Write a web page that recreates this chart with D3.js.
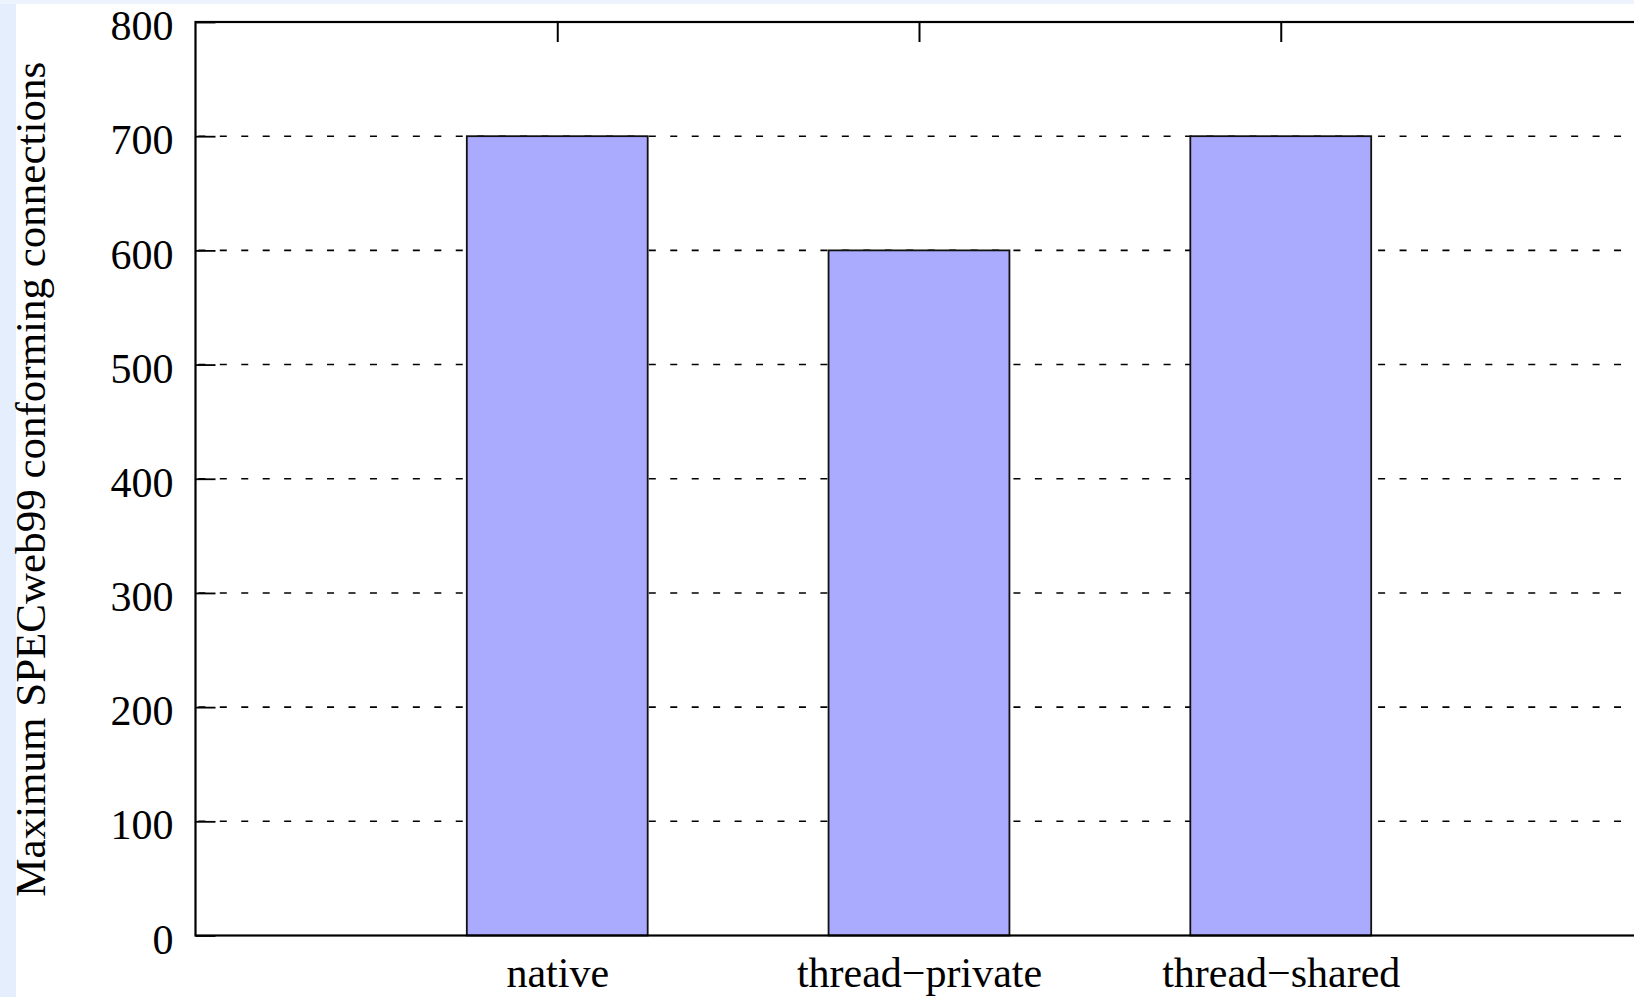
<!DOCTYPE html>
<html>
<head>
<meta charset="utf-8">
<script src="https://cdn.jsdelivr.net/npm/d3@7"></script>
<style>
  html, body { margin: 0; padding: 0; background: #e4eefc; overflow: hidden; }
  svg { display: block; }
  .tick-text { font-family: 'Liberation Serif', 'Times New Roman', serif; font-size: 42px; fill: #000; }
</style>
</head>
<body>
<svg id="chart"></svg>
<script>
const categories = ['native', 'thread\u2212private', 'thread\u2212shared']
const values = [700, 600, 700]
const yTicks = [0, 100, 200, 300, 400, 500, 600, 700, 800]
const yLabel = 'Maximum SPECweb99 conforming connections'

const chartWidth = 1634
const chartHeight = 997
const plotLeft = 195.5
const plotTop = 22
const plotBottom = 935.5
const unit = 361.75   // px per category step
const barWidth = 0.5  // in category units
const tickLen = 20
const fontFamily = "'Liberation Serif', 'Times New Roman', serif"

let svg = d3.select('#chart')
  .attr('width', chartWidth)
  .attr('height', chartHeight)

// light blue page strip left and top, white plot page
svg.append('rect')
  .attr('x', 0).attr('y', 0).attr('width', chartWidth).attr('height', 4)
  .style('fill', '#edf4fd')
svg.append('rect')
  .attr('x', 16).attr('y', 4).attr('width', chartWidth - 16).attr('height', chartHeight - 4)
  .style('fill', '#ffffff')

let xScale = d3.scaleLinear()
  .domain([0, categories.length + 1])
  .range([plotLeft, plotLeft + unit * (categories.length + 1)])
let yScale = d3.scaleLinear()
  .domain([0, 800])
  .range([plotBottom, plotTop])

// dashed grid
svg.append('g')
  .classed('grid', true)
  .selectAll('line')
  .data(yTicks.filter(t => t > 0 && t < 800))
  .enter()
  .append('line')
  .attr('x1', xScale.range()[0])
  .attr('x2', xScale.range()[1])
  .attr('y1', d => yScale(d))
  .attr('y2', d => yScale(d))
  .style('stroke', '#000')
  .style('stroke-width', 1.6)
  .style('stroke-dasharray', '7,14.45')
  .style('stroke-dashoffset', 18.6)

// bars
svg.append('g')
  .classed('bars', true)
  .selectAll('rect')
  .data(values)
  .enter()
  .append('rect')
  .attr('x', (d, i) => xScale(i + 1 - barWidth / 2))
  .attr('y', d => yScale(d))
  .attr('width', xScale(barWidth) - xScale(0))
  .attr('height', d => yScale(0) - yScale(d))
  .style('fill', '#aaaaff')
  .style('stroke', '#111')
  .style('stroke-width', 1.8)

// y axis
let yAxis = svg.append('g')
  .attr('transform', `translate(${plotLeft}, 0)`)
  .call(d3.axisLeft(yScale).tickValues(yTicks).tickSizeInner(-tickLen).tickSizeOuter(0).tickPadding(22))
yAxis.select('.domain').remove()
yAxis.selectAll('.tick line').style('stroke', '#000').style('stroke-width', 1.8)
yAxis.selectAll('.tick text')
  .classed('tick-text', true)
  .attr('dy', '0.42em')
  .style('font-family', fontFamily)
  .style('font-size', '42px')

// top axis ticks at categories
let topAxis = svg.append('g')
  .attr('transform', `translate(0, ${plotTop})`)
  .call(d3.axisTop(xScale).tickValues(categories.map((c, i) => i + 1)).tickSizeInner(-tickLen).tickSizeOuter(0).tickFormat(''))
topAxis.select('.domain').remove()
topAxis.selectAll('.tick line').style('stroke', '#000').style('stroke-width', 2)

// bottom axis labels
let xAxis = svg.append('g')
  .attr('transform', `translate(0, ${plotBottom})`)
  .call(d3.axisBottom(xScale).tickValues(categories.map((c, i) => i + 1)).tickSizeInner(0).tickSizeOuter(0).tickPadding(22)
    .tickFormat((d) => categories[d - 1]))
xAxis.select('.domain').remove()
xAxis.selectAll('.tick text')
  .classed('tick-text', true)
  .style('font-family', fontFamily)
  .style('font-size', '42px')

// frame
svg.append('rect')
  .attr('x', xScale.range()[0])
  .attr('y', yScale.range()[1])
  .attr('width', xScale.range()[1] - xScale.range()[0])
  .attr('height', yScale.range()[0] - yScale.range()[1])
  .style('fill', 'none')
  .style('stroke', '#000')
  .style('stroke-width', 2.2)

// y label
svg.append('text')
  .attr('transform', `translate(45, ${(plotTop + plotBottom) / 2 + 0.5}) rotate(-90)`)
  .attr('text-anchor', 'middle')
  .style('font-family', fontFamily)
  .style('font-size', '43px')
  .text(yLabel)
</script>
</body>
</html>
